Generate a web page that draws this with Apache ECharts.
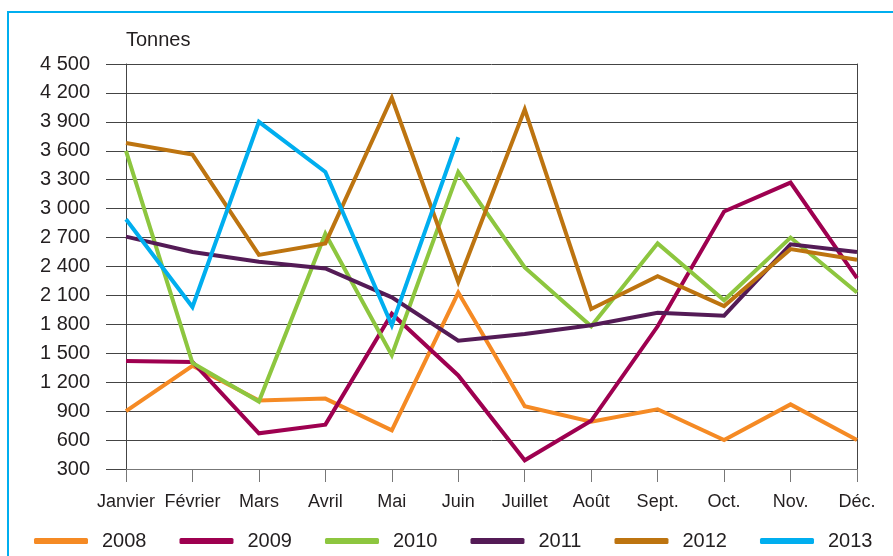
<!DOCTYPE html>
<html>
<head>
<meta charset="utf-8">
<script src="https://cdn.jsdelivr.net/npm/echarts@6/dist/echarts.min.js"></script>
<style>
  html, body { margin: 0; padding: 0; background: #fff; }
  #mychart { width: 893px; height: 556px; }
</style>
</head>
<body>
<div id="mychart"></div>
<script>
// mois
var months = ['Janvier', 'Février', 'Mars', 'Avril', 'Mai', 'Juin', 'Juillet', 'Août', 'Sept.', 'Oct.', 'Nov.', 'Déc.']

// tonnes par mois
var y2008 = [900, 1370, 1010, 1030, 700, 2130, 950, 790, 920, 600, 970, 600]
var y2009 = [1420, 1410, 670, 760, 1910, 1270, 390, 800, 1780, 2970, 3270, 2280]
var y2010 = [3600, 1400, 1000, 2740, 1480, 3380, 2390, 1780, 2640, 2050, 2700, 2130]
var y2011 = [2710, 2550, 2450, 2380, 2080, 1630, 1700, 1790, 1920, 1890, 2630, 2550]
var y2012 = [3680, 3560, 2520, 2640, 4150, 2240, 4030, 1960, 2300, 1990, 2580, 2470]
var y2013 = [2890, 1980, 3900, 3380, 1790, 3740]

var years = ['2008', '2009', '2010', '2011', '2012', '2013']
var colors = ['#F58A24', '#9E0050', '#8DC63F', '#541B56', '#BD7410', '#00AEEF']

var font = '"Liberation Sans", Arial, sans-serif'

function fmtTonnes(v) {
  if (v >= 1000) {
    return Math.floor(v / 1000) + ' ' + String(v % 1000).padStart(3, '0')
  }
  return String(v)
}

var chartDom = document.getElementById('mychart')
var myChart = echarts.init(chartDom)

var seriesData = [y2008, y2009, y2010, y2011, y2012, y2013]
var series = seriesData.map(function (d, i) {
  return {
    name: years[i],
    type: 'line',
    data: d,
    symbol: 'none',
    lineStyle: { width: 4, color: colors[i], join: 'miter' },
    itemStyle: { color: colors[i] },
    z: 2 + i
  }
})

var option = {
  animation: false,
  textStyle: { fontFamily: font },
  grid: { left: 126, right: 36, top: 64, bottom: 87 },
  graphic: [{
    type: 'rect',
    shape: { x: 8, y: 12, width: 900, height: 560 },
    style: { fill: 'none', stroke: '#00AEEF', lineWidth: 2 },
    silent: true
  }],
  legend: {
    left: 29,
    top: 526,
    itemWidth: 54,
    itemHeight: 6,
    itemGap: 33,
    icon: 'roundRect',
    textStyle: { fontFamily: font, fontSize: 20, color: '#231F20', padding: [0, 0, 8, 9] },
    data: years
  },
  xAxis: {
    type: 'category',
    boundaryGap: false,
    data: months,
    axisLine: { lineStyle: { color: '#777', width: 1 } },
    axisTick: { show: true, length: 13, alignWithLabel: true, lineStyle: { color: '#777' } },
    axisLabel: { interval: 0, margin: 24, fontFamily: font, fontSize: 18, color: '#231F20' }
  },
  yAxis: [{
    type: 'value',
    min: 300,
    max: 4500,
    interval: 300,
    name: 'Tonnes',
    nameLocation: 'end',
    nameGap: 14,
    nameTextStyle: { fontFamily: font, fontSize: 20, color: '#231F20', align: 'left' },
    axisLine: { show: true, lineStyle: { color: '#444', width: 1 } },
    axisTick: { show: true, length: 20, lineStyle: { color: '#444' } },
    axisLabel: { margin: 36, fontFamily: font, fontSize: 20, color: '#231F20', formatter: fmtTonnes },
    splitLine: { lineStyle: { color: '#444', width: 1 } }
  }, {
    type: 'value',
    position: 'right',
    min: 300,
    max: 4500,
    interval: 300,
    axisLine: { show: true, lineStyle: { color: '#444', width: 1 } },
    axisTick: { show: false },
    axisLabel: { show: false },
    splitLine: { show: false }
  }],
  series: series
}
myChart.setOption(option)
</script>
</body>
</html>
